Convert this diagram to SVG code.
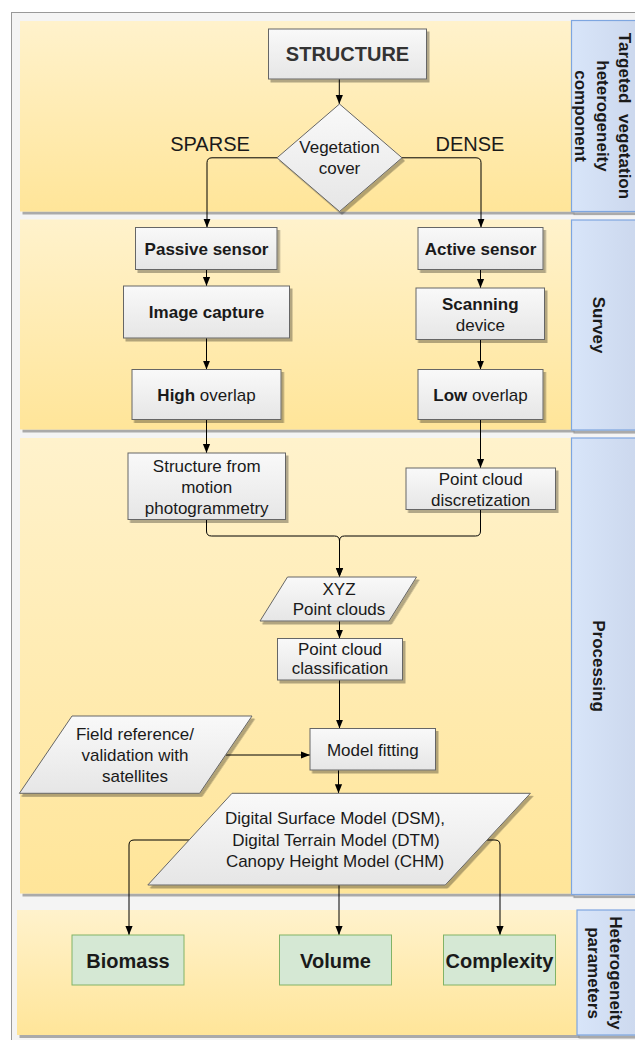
<svg xmlns="http://www.w3.org/2000/svg" width="635" height="1040" viewBox="0 0 635 1040">
<defs>
<linearGradient id="laneG" x1="0" y1="0" x2="0" y2="1"><stop offset="0" stop-color="#fff2cc"/><stop offset="1" stop-color="#ffe599"/></linearGradient>
<linearGradient id="nodeG" x1="0" y1="0" x2="0" y2="1"><stop offset="0" stop-color="#f9f9f9"/><stop offset="1" stop-color="#e6e6e6"/></linearGradient>
<linearGradient id="labG" x1="0" y1="0" x2="1" y2="0"><stop offset="0" stop-color="#d8e5f9"/><stop offset="1" stop-color="#c9d5eb"/></linearGradient>
<filter id="sh" x="-5%" y="-5%" width="115%" height="115%"><feDropShadow dx="2.5" dy="3" stdDeviation="0.6" flood-color="#000" flood-opacity="0.3"/></filter>
<marker id="arr" viewBox="0 0 10 10" refX="10" refY="5" markerWidth="9" markerHeight="9" markerUnits="userSpaceOnUse" orient="auto"><path d="M0,1 L10,5 L0,9 z" fill="#000"/></marker>
</defs>
<style>
.lane{fill:url(#laneG);filter:url(#sh)}
.lab{fill:url(#labG);stroke:#7ea6e0;stroke-width:1.2;filter:url(#sh)}
.node{fill:url(#nodeG);stroke:#666;stroke-width:1;filter:url(#sh)}
.green{fill:#d5e8d4;stroke:#82b366;stroke-width:1}
.t{font-family:"Liberation Sans",Arial,sans-serif;font-size:17px;fill:#1a1a1a;text-anchor:middle}
.b{font-weight:bold}
.big{font-size:20px}
.lt{font-family:"Liberation Sans",Arial,sans-serif;font-size:17px;font-weight:bold;fill:#1a1a1a;text-anchor:middle;dominant-baseline:central}
.c{fill:none;stroke:#000;stroke-width:1;marker-end:url(#arr)}
</style>

<rect x="11.5" y="12.5" width="640" height="1040" fill="#f4f4f4" stroke="#999" stroke-width="1"/>

<g id="lanes">
<rect class="lane" x="20" y="21" width="551.5" height="190.5"/>
<rect class="lane" x="20" y="219.5" width="551.5" height="210"/>
<rect class="lane" x="20" y="438" width="551.5" height="455.5"/>
<rect class="lane" x="17" y="910" width="560" height="125"/>
</g>

<g id="lane-labels">
<g id="label-targeted">
<rect class="lab" x="571.5" y="20.5" width="80" height="191"/>
<g transform="translate(602,116) rotate(90)">
<text class="lt" x="0" y="-22" word-spacing="6">Targeted vegetation</text>
<text class="lt" x="0" y="0">heterogeneity</text>
<text class="lt" x="0" y="22">component</text>
</g>
</g>
<g id="label-survey">
<rect class="lab" x="571.5" y="220" width="80" height="210"/>
<text class="lt" transform="translate(598,325) rotate(90)">Survey</text>
</g>
<g id="label-processing">
<rect class="lab" x="571.5" y="438" width="80" height="456.5"/>
<text class="lt" transform="translate(598,666) rotate(90)">Processing</text>
</g>
<g id="label-parameters">
<rect class="lab" x="577" y="910" width="80" height="125"/>
<g transform="translate(604,973) rotate(90)">
<text class="lt" x="0" y="-11">Heterogeneity</text>
<text class="lt" x="0" y="11">parameters</text>
</g>
</g>
</g>

<g id="connectors">
<path class="c" d="M339.3,79 V104"/>
<path class="c" d="M277,157.8 H212 Q207,157.8 207,162.8 V227.5"/>
<path class="c" d="M402,157.8 H476 Q481,157.8 481,162.8 V227.5"/>
<path class="c" d="M206.5,269.5 V286"/>
<path class="c" d="M206.5,338 V369.5"/>
<path class="c" d="M206.5,419.5 V453"/>
<path class="c" d="M480.5,269.5 V288"/>
<path class="c" d="M480.5,339.5 V369.5"/>
<path class="c" d="M480.5,419.5 V468"/>
<path class="c" d="M206.5,519.5 V531 Q206.5,536 211.5,536 H334.5 Q339.5,536 339.5,541 V577"/>
<path class="c" d="M480.5,509.5 V531 Q480.5,536 475.5,536 H344.5 Q339.5,536 339.5,541 V577"/>
<path class="c" d="M339.5,621 V638.5"/>
<path class="c" d="M339.5,680 V728.5"/>
<path class="c" d="M226,755 H310"/>
<path class="c" d="M338.5,770 V793.3"/>
<path class="c" d="M190,840 H134 Q129,840 129,845 V935"/>
<path class="c" d="M339,885 V935"/>
<path class="c" d="M487,840 H495 Q500,840 500,845 V935"/>
</g>

<g id="structure">
<rect class="node" x="268.5" y="29" width="158" height="50"/>
<text class="t b big" x="347.5" y="61" style="fill:#333">STRUCTURE</text>
</g>
<g id="vegetation-cover">
<polygon class="node" points="339.5,104 402,157.8 339.5,211.5 277,157.8"/>
<text class="t" x="339.5" y="153">Vegetation</text>
<text class="t" x="339.5" y="174">cover</text>
</g>
<g id="sparse-label"><text class="t big" x="210" y="151">SPARSE</text></g>
<g id="dense-label"><text class="t big" x="470" y="151">DENSE</text></g>

<g id="passive-sensor">
<rect class="node" x="135.5" y="227.5" width="141.5" height="42"/>
<text class="t b" x="206.5" y="254.5">Passive sensor</text>
</g>
<g id="active-sensor">
<rect class="node" x="418" y="227.5" width="125" height="42"/>
<text class="t b" x="480.5" y="254.5">Active sensor</text>
</g>
<g id="image-capture">
<rect class="node" x="123.5" y="286" width="166" height="52"/>
<text class="t b" x="206.5" y="318">Image capture</text>
</g>
<g id="scanning-device">
<rect class="node" x="416" y="288" width="128.5" height="51.5"/>
<text class="t b" x="480.3" y="310">Scanning</text>
<text class="t" x="480.3" y="331">device</text>
</g>
<g id="high-overlap">
<rect class="node" x="132" y="369.5" width="149" height="50"/>
<text class="t" x="206.5" y="401"><tspan class="b">High</tspan> overlap</text>
</g>
<g id="low-overlap">
<rect class="node" x="418" y="369.5" width="125" height="50"/>
<text class="t" x="480.5" y="401"><tspan class="b">Low</tspan> overlap</text>
</g>

<g id="sfm">
<rect class="node" x="128" y="453" width="157.5" height="66.5"/>
<text class="t" x="206.7" y="472">Structure from</text>
<text class="t" x="206.7" y="493">motion</text>
<text class="t" x="206.7" y="514">photogrammetry</text>
</g>
<g id="discretization">
<rect class="node" x="406" y="468" width="149.5" height="41.5"/>
<text class="t" x="480.7" y="485">Point cloud</text>
<text class="t" x="480.7" y="506">discretization</text>
</g>
<g id="xyz">
<polygon class="node" points="287.5,577 416.5,577 389,621 260,621"/>
<text class="t" x="339" y="595">XYZ</text>
<text class="t" x="339" y="615">Point clouds</text>
</g>
<g id="classification">
<rect class="node" x="277.5" y="638.5" width="125" height="41.5"/>
<text class="t" x="340" y="654.5">Point cloud</text>
<text class="t" x="340" y="674">classification</text>
</g>
<g id="field-reference">
<polygon class="node" points="72,716 252,716 199.6,793.3 19.4,793.3"/>
<text class="t" x="135" y="740">Field reference/</text>
<text class="t" x="135" y="761">validation with</text>
<text class="t" x="135" y="782">satellites</text>
</g>
<g id="model-fitting">
<rect class="node" x="310" y="728.5" width="125.5" height="41.5"/>
<text class="t" x="372.8" y="755.5">Model fitting</text>
</g>
<g id="dsm">
<polygon class="node" points="232,793.3 530.4,793.3 445.3,885 147.8,885"/>
<text class="t" x="335" y="824">Digital Surface Model (DSM),</text>
<text class="t" x="336" y="845.5">Digital Terrain Model (DTM)</text>
<text class="t" x="335" y="866.5">Canopy Height Model (CHM)</text>
</g>

<g id="biomass">
<rect class="green" x="72" y="935" width="112" height="50"/>
<text class="t b big" x="128" y="967.5">Biomass</text>
</g>
<g id="volume">
<rect class="green" x="279.5" y="935" width="112" height="50"/>
<text class="t b big" x="335.5" y="967.5">Volume</text>
</g>
<g id="complexity">
<rect class="green" x="443.5" y="935" width="112" height="50"/>
<text class="t b big" x="499.5" y="967.5">Complexity</text>
</g>
</svg>
